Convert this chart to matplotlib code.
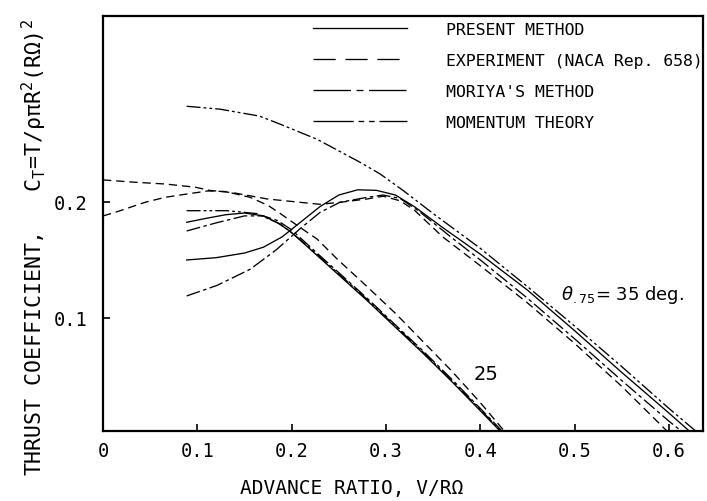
import matplotlib
matplotlib.use('Agg')
import matplotlib.pyplot as plt
from matplotlib.lines import Line2D

plt.rcParams['font.family'] = ['DejaVu Sans Mono', 'DejaVu Sans']
plt.rcParams['lines.scale_dashes'] = False

# ---------------- data ----------------
# theta_75 = 35 deg
x35_pm = [0.0887, 0.12, 0.15, 0.17, 0.19, 0.21, 0.23, 0.25, 0.27, 0.29, 0.31, 0.33, 0.36, 0.40, 0.45, 0.50, 0.55, 0.60, 0.625]
y35_pm = [0.150, 0.152, 0.156, 0.161, 0.170, 0.183, 0.196, 0.206, 0.2105, 0.2100, 0.206, 0.196, 0.178, 0.155, 0.124, 0.089, 0.053, 0.018, 0.0]

x35_exp = [0.0, 0.034, 0.066, 0.098, 0.113, 0.138, 0.174, 0.209, 0.230, 0.251, 0.28, 0.297, 0.315, 0.33, 0.36, 0.40, 0.45, 0.50, 0.55, 0.601]
y35_exp = [0.219, 0.217, 0.2155, 0.2127, 0.210, 0.208, 0.2026, 0.1997, 0.198, 0.1997, 0.2026, 0.205, 0.201, 0.193, 0.170, 0.145, 0.113, 0.078, 0.041, 0.0]

x35_mor = [0.0887, 0.1206, 0.156, 0.184, 0.209, 0.230, 0.251, 0.28, 0.297, 0.315, 0.335, 0.37, 0.40, 0.45, 0.50, 0.55, 0.60, 0.617]
y35_mor = [0.119, 0.128, 0.142, 0.159, 0.177, 0.191, 0.1997, 0.204, 0.206, 0.203, 0.192, 0.169, 0.150, 0.117, 0.082, 0.046, 0.011, 0.0]

x35_mom = [0.0887, 0.124, 0.166, 0.188, 0.227, 0.273, 0.294, 0.318, 0.35, 0.40, 0.45, 0.50, 0.55, 0.60, 0.632]
y35_mom = [0.2825, 0.280, 0.274, 0.267, 0.254, 0.234, 0.224, 0.210, 0.190, 0.160, 0.127, 0.093, 0.058, 0.022, 0.0]

# theta_75 = 25 deg
x25_pm = [0.0887, 0.11, 0.13, 0.15, 0.17, 0.185, 0.198, 0.22, 0.25, 0.28, 0.31, 0.34, 0.37, 0.40, 0.424]
y25_pm = [0.1825, 0.186, 0.189, 0.1905, 0.188, 0.182, 0.175, 0.159, 0.137, 0.115, 0.092, 0.069, 0.045, 0.020, 0.0]

x25_exp = [0.0, 0.0127, 0.0445, 0.0657, 0.090, 0.111, 0.13, 0.156, 0.175, 0.188, 0.209, 0.227, 0.248, 0.28, 0.31, 0.34, 0.37, 0.40, 0.428]
y25_exp = [0.188, 0.191, 0.1997, 0.204, 0.207, 0.2095, 0.209, 0.204, 0.197, 0.190, 0.178, 0.168, 0.151, 0.127, 0.104, 0.079, 0.054, 0.027, 0.0]

x25_mor = [0.0887, 0.12, 0.15, 0.17, 0.185, 0.2, 0.22, 0.25, 0.28, 0.31, 0.34, 0.37, 0.40, 0.426]
y25_mor = [0.175, 0.182, 0.188, 0.188, 0.184, 0.176, 0.161, 0.139, 0.117, 0.094, 0.071, 0.047, 0.022, 0.0]

x25_mom = [0.0887, 0.131, 0.163, 0.188, 0.21, 0.25, 0.28, 0.31, 0.34, 0.37, 0.40, 0.425]
y25_mom = [0.1925, 0.1925, 0.19, 0.181, 0.167, 0.138, 0.116, 0.093, 0.070, 0.046, 0.021, 0.0]

legend_labels = ["PRESENT METHOD", "EXPERIMENT (NACA Rep. 658)", "MORIYA'S METHOD", "MOMENTUM THEORY"]
xticks = [0, 0.1, 0.2, 0.3, 0.4, 0.5, 0.6]
xticklabels = ["0", "0.1", "0.2", "0.3", "0.4", "0.5", "0.6"]
yticks = [0.1, 0.2]
yticklabels = ["0.1", "0.2"]

# ---------------- styles ----------------
ls_pm = '-'
ls_exp = (0, (6, 3.5))
ls_mor = (0, (10, 2.5, 2.5, 2.5))
ls_mom = (0, (10, 2.2, 2, 2.2, 2, 2.2))
lw = 0.95
col = 'black'

fig = plt.figure(figsize=(7.07, 5.02), dpi=100)
ax = fig.add_axes([103 / 707, 70 / 502, 600 / 707, 415 / 502])

for xs, ys, ls in [(x35_pm, y35_pm, ls_pm), (x35_exp, y35_exp, ls_exp),
                   (x35_mor, y35_mor, ls_mor), (x35_mom, y35_mom, ls_mom),
                   (x25_pm, y25_pm, ls_pm), (x25_exp, y25_exp, ls_exp),
                   (x25_mor, y25_mor, ls_mor), (x25_mom, y25_mom, ls_mom)]:
    ax.plot(xs, ys, color=col, lw=lw, linestyle=ls, clip_on=True)

ax.set_xlim(0, 0.636)
ax.set_ylim(0.0026, 0.3603)
ax.set_xticks(xticks)
ax.set_xticklabels(xticklabels)
ax.set_yticks(yticks)
ax.set_yticklabels(yticklabels)
ax.tick_params(direction='in', length=5, width=1.2, labelsize=13.5, color=col)
ax.tick_params(axis='x', pad=7)
ax.tick_params(axis='y', pad=11)
for s in ax.spines.values():
    s.set_linewidth(1.6)

# legend with longer dash patterns as in the reference key
handles = [Line2D([], [], color=col, lw=lw, linestyle='-'),
           Line2D([], [], color=col, lw=lw, linestyle=(0, (16, 7))),
           Line2D([], [], color=col, lw=lw, linestyle=(0, (27, 4, 5, 4))),
           Line2D([], [], color=col, lw=lw, linestyle=(0, (29, 3.5, 4, 3.5, 4, 3.5)))]
ax.legend(handles, legend_labels, loc='upper left', bbox_to_anchor=((313 - 103) / 600, (432 - 23) / 415),
          frameon=False, fontsize=11.85, handlelength=5.7, handletextpad=2.4,
          labelspacing=0.97, borderpad=0, borderaxespad=0)

ax.text(0.485, 0.116, r"$\theta_{.75}$= 35 deg.", fontsize=13, family='DejaVu Sans')
ax.text(0.393, 0.047, "25", fontsize=14, family='DejaVu Sans')

fig.text(352 / 707, 1 - 489 / 502, "ADVANCE RATIO, V/RΩ", ha='center', va='center', fontsize=14)
fig.text(34 / 707, 1 - 248 / 502,
         r"THRUST COEFFICIENT,   C$_\mathregular{T}$=T/ρπR$^\mathregular{2}$(RΩ)$^\mathregular{2}$",
         rotation=90, ha='center', va='center', fontsize=15.5)

fig.savefig('out.png', dpi=100)
